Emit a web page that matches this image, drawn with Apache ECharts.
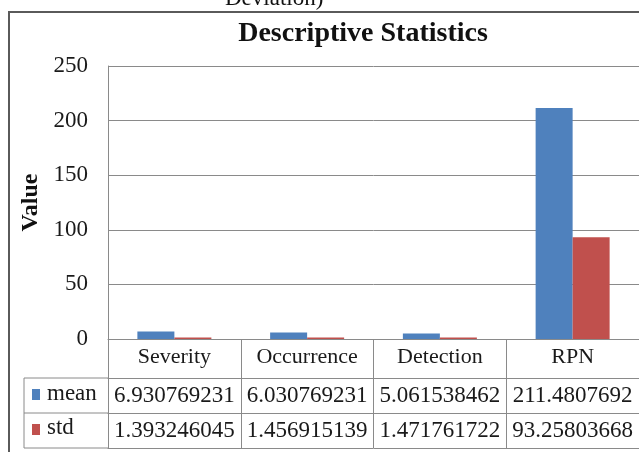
<!DOCTYPE html>
<html>
<head>
<meta charset="utf-8">
<script src="https://cdn.jsdelivr.net/npm/echarts@6/dist/echarts.min.js"></script>
<style>
  html, body { margin: 0; padding: 0; background: #fff; }
  #main { width: 639px; height: 452px; }
</style>
</head>
<body>
<div id="main"></div>
<script>
// data
const categories = ["Severity", "Occurrence", "Detection", "RPN"];
const seriesNames = ["mean", "std"];
const meanValues = [6.930769231, 6.030769231, 5.061538462, 211.4807692];
const stdValues = [1.393246045, 1.456915139, 1.471761722, 93.25803668];
const yTicks = [0, 50, 100, 150, 200, 250];

const colors = ["#4F81BD", "#C0504D"];
const font = "Liberation Serif";
const lineColor = "#8a8a8a";
const textColor = "#1a1a1a";

const chartDom = document.getElementById("main");
const myChart = echarts.init(chartDom);

// one category axis per table row, stacked below the plot
const tableAxis = (data, offset, tickLen, showLabel) => ({
  type: "category",
  data: data,
  position: "bottom",
  offset: offset,
  z: 5,
  axisLine: { show: true, lineStyle: { color: lineColor, width: 1 } },
  axisTick: { show: true, length: tickLen, lineStyle: { color: lineColor } },
  axisLabel: {
    show: showLabel,
    interval: 0,
    hideOverlap: false,
    margin: offset === 0 ? 7 : 6,
    fontFamily: font,
    fontSize: offset === 0 ? 22 : 23,
    color: textColor,
  },
  splitLine: { show: false },
});

const option = {
  animation: false,
  title: {
    text: "Descriptive Statistics",
    left: 358,
    textAlign: "center",
    top: 15,
    textStyle: { fontFamily: font, fontSize: 28, fontWeight: "bold", color: "#111" },
  },
  grid: { left: 108, top: 66, width: 532, height: 273 },
  xAxis: [
    tableAxis(categories, 0, 39, true),
    tableAxis(meanValues.map(String), 39, 35, true),
    tableAxis(stdValues.map(String), 74, 35, true),
    tableAxis(categories, 109, 0, false),
  ],
  yAxis: {
    type: "value",
    min: yTicks[0],
    max: yTicks[yTicks.length - 1],
    interval: 50,
    name: "Value",
    nameLocation: "middle",
    nameRotate: 90,
    nameGap: 64,
    nameTextStyle: { fontFamily: font, fontSize: 24, fontWeight: "bold", color: "#111" },
    axisLine: { show: true, lineStyle: { color: lineColor } },
    axisTick: { show: false },
    axisLabel: { margin: 20, fontFamily: font, fontSize: 23, color: textColor },
    splitLine: { lineStyle: { color: lineColor, width: 1 } },
  },
  series: [
    { name: seriesNames[0], type: "bar", data: meanValues, barWidth: 37, barGap: "0%", itemStyle: { color: colors[0] } },
    { name: seriesNames[1], type: "bar", data: stdValues, barWidth: 37, barGap: "0%", itemStyle: { color: colors[1] } },
  ],
  graphic: [
    // caption text cut at the top of the picture
    { type: "text", left: 225, top: -13, style: { text: "Deviation)", fontFamily: font, fontSize: 23, fill: "#111" } },
    // outer chart border
    { type: "rect", shape: { x: 9, y: 12, width: 720, height: 460 }, style: { fill: "none", stroke: "#5a5a5a", lineWidth: 2 } },
    // left part of the data table (legend keys)
    { type: "line", shape: { x1: 24, y1: 378, x2: 108, y2: 378 }, style: { stroke: lineColor, lineWidth: 1 } },
    { type: "line", shape: { x1: 24, y1: 413, x2: 108, y2: 413 }, style: { stroke: lineColor, lineWidth: 1 } },
    { type: "line", shape: { x1: 24, y1: 448, x2: 108, y2: 448 }, style: { stroke: lineColor, lineWidth: 1 } },
    { type: "line", shape: { x1: 24, y1: 378, x2: 24, y2: 448 }, style: { stroke: lineColor, lineWidth: 1 } },
    { type: "rect", shape: { x: 32, y: 389, width: 8, height: 11 }, style: { fill: colors[0] } },
    { type: "text", left: 47, top: 382, style: { text: seriesNames[0], fontFamily: font, fontSize: 23, fill: textColor } },
    { type: "rect", shape: { x: 32, y: 424, width: 8, height: 11 }, style: { fill: colors[1] } },
    { type: "text", left: 47, top: 416, style: { text: seriesNames[1], fontFamily: font, fontSize: 23, fill: textColor } },
  ],
};

option && myChart.setOption(option);
</script>
</body>
</html>
